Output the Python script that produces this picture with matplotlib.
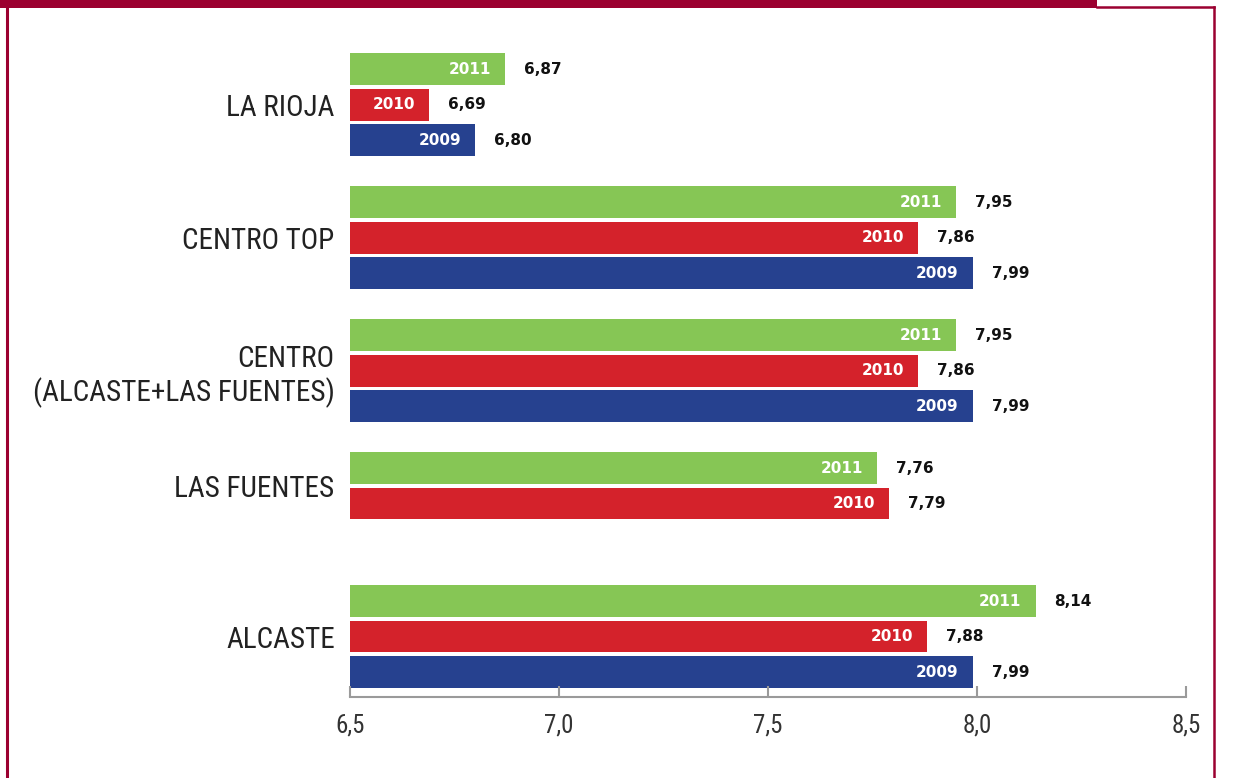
#!/usr/bin/env python3
import matplotlib
matplotlib.use('Agg')
import matplotlib.pyplot as plt
from matplotlib.patches import Rectangle
from matplotlib.lines import Line2D
from matplotlib.transforms import offset_copy

groups = ['LA RIOJA', 'CENTRO TOP', 'CENTRO\n(ALCASTE+LAS FUENTES)', 'LAS FUENTES', 'ALCASTE']
years = ['2011', '2010', '2009']
vals_2011 = [6.87, 7.95, 7.95, 7.76, 8.14]
vals_2010 = [6.69, 7.86, 7.86, 7.79, 7.88]
vals_2009 = [6.80, 7.99, 7.99, None, 7.99]
xticks = [6.5, 7.0, 7.5, 8.0, 8.5]

colors = {'2011': '#86c655', '2010': '#d4222b', '2009': '#26418f'}
frame = '#9b0030'
narrow = ['Roboto Condensed', 'Archivo Narrow', 'Liberation Sans Narrow', 'Liberation Sans']
W, H = 1234, 778

fig = plt.figure(figsize=(W / 100, H / 100), dpi=100)
ax = fig.add_axes([350 / W, (H - 697) / H, (1186 - 350) / W, (697 - 30) / H])

gap = 3.746
series = {'2011': vals_2011, '2010': vals_2010, '2009': vals_2009}
centers = []
for g in range(len(groups)):
  ys = []
  for j, yr in enumerate(years):
    v = series[yr][g]
    if v is None:
      continue
    y = g * gap + j
    ys.append(y)
    ax.barh(y, v, height=0.9, color=colors[yr])
    t_in = offset_copy(ax.transData, fig=fig, x=-14, y=0, units='dots')
    ax.text(v, y, yr, transform=t_in, ha='right', va='center', color='white',
            fontsize=11, fontweight='bold', family='DejaVu Sans')
    t_out = offset_copy(ax.transData, fig=fig, x=19, y=0, units='dots')
    ax.text(v, y, f'{v:.2f}'.replace('.', ','), transform=t_out, ha='left', va='center',
            color='#111111', fontsize=11, fontweight='bold', family='DejaVu Sans')
  centers.append(sum(ys) / len(ys))

ax.set_xlim(6.5, 8.5)
ax.set_ylim(4 * gap + 2 + 0.704, -1.1)

ax.set_yticks(centers)
ax.set_yticklabels(groups, fontsize=21, color='#222222', family=narrow,
                   ha='right', multialignment='right', linespacing=1.2)
ax.tick_params(axis='y', length=0, pad=11)

ax.set_xticks(xticks)
ax.set_xticklabels([f'{t:.1f}'.replace('.', ',') for t in xticks], fontsize=18,
                   color='#333333', family=narrow)
ax.tick_params(axis='x', direction='in', length=8, width=1.5, color='#9a9a9a', pad=12)

for s in ['top', 'right', 'left']:
  ax.spines[s].set_visible(False)
ax.spines['bottom'].set_color('#9a9a9a')
ax.spines['bottom'].set_linewidth(1.5)

# page frame
def fx(p):
  return p / W

def fy(p):
  return 1 - p / H

fig.add_artist(Rectangle((0, fy(8)), fx(1097), 8 / H, transform=fig.transFigure,
                         color=frame, lw=0))
fig.add_artist(Line2D([fx(1097), fx(1214)], [fy(7), fy(7)], transform=fig.transFigure,
                      color=frame, lw=1.8))
fig.add_artist(Line2D([fx(1214), fx(1214)], [fy(7), 0], transform=fig.transFigure,
                      color=frame, lw=1.8))
fig.add_artist(Line2D([fx(7), fx(7)], [1, 0], transform=fig.transFigure,
                      color=frame, lw=2.2))

plt.savefig('out.png', dpi=100)
